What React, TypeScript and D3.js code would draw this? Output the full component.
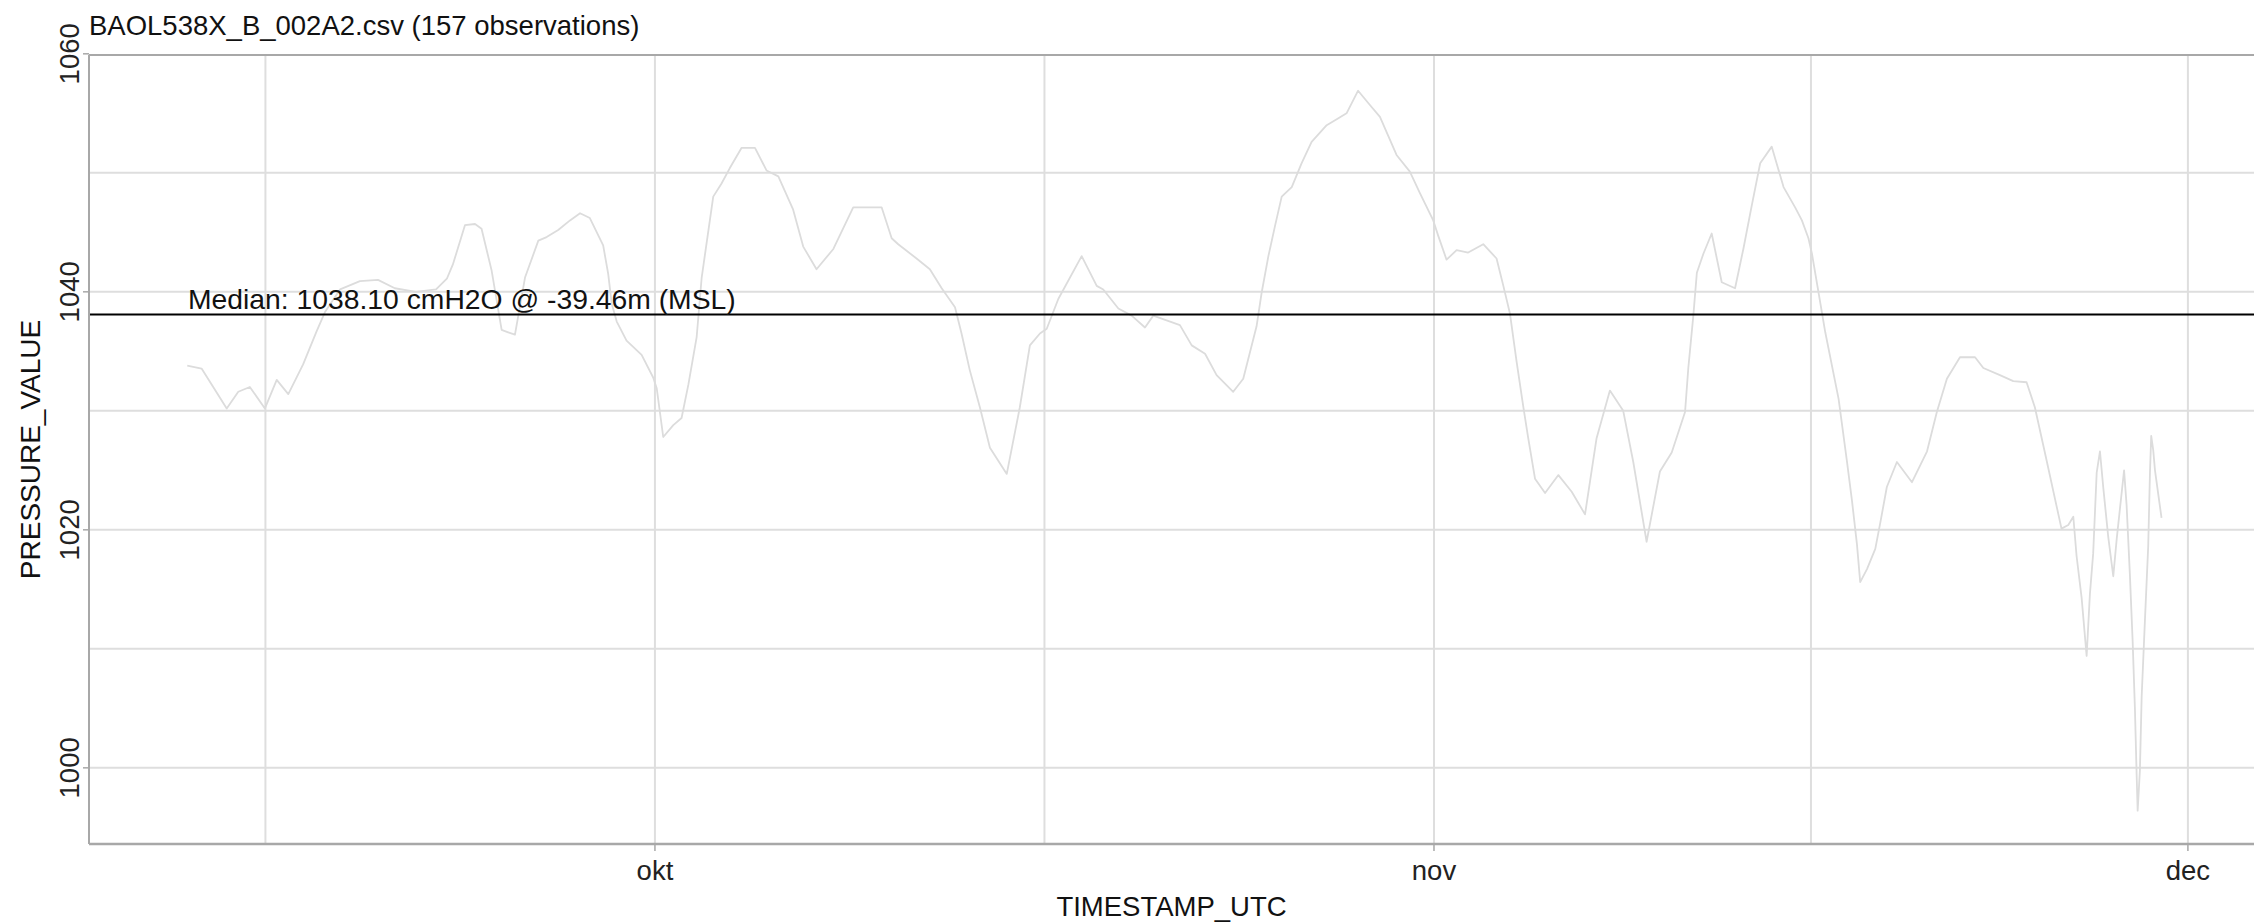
import React from 'react';
import * as d3 from 'd3';

// ---- text ----
const TITLE = 'BAOL538X_B_002A2.csv (157 observations)';
const MEDIAN_VALUE = 1038.1;
const MEDIAN_LABEL = 'Median: 1038.10 cmH2O @ -39.46m (MSL)';
const X_LABEL = 'TIMESTAMP_UTC';
const Y_LABEL = 'PRESSURE_VALUE';

// ---- axes ----
const MONTH_TICKS = ['2015-10-01T00:00:00Z', '2015-11-01T00:00:00Z', '2015-12-01T00:00:00Z'];
const MONTH_LABELS = ['okt', 'nov', 'dec'];
const Y_TICKS = [1000, 1020, 1040, 1060];
const Y_GRID = [1000, 1010, 1020, 1030, 1040, 1050];
const SERIES_START = '2015-09-01T00:00:00Z';
const X_LIMITS_DAYS = [7.48, 93.63];
const Y_LIMITS = [993.6, 1059.9];

// ---- data: days since SERIES_START, pressure (cmH2O) ----
const OBS_DAYS = [
  11.39, 11.96, 12.96, 13.42, 13.88, 14.48, 14.95, 15.41, 16.0, 16.54,
  16.87, 17.47, 18.26, 18.98, 19.65, 20.49, 21.29, 21.72, 21.96, 22.44,
  22.84, 23.1, 23.5, 23.9, 24.16, 24.43, 24.83, 25.36, 25.69, 26.15,
  26.62, 27.02, 27.41, 27.94, 28.14, 28.28, 28.48, 28.87, 29.47, 29.93,
  30.07, 30.33, 30.73, 31.06, 31.33, 31.66, 31.86, 32.32, 32.65, 32.98,
  33.45, 33.98, 34.44, 34.91, 35.5, 35.9, 36.43, 37.1, 37.89, 39.02,
  39.42, 39.68, 40.41, 40.94, 41.41, 41.94, 42.2, 42.53, 42.93, 43.33,
  44.0, 44.52, 44.92, 45.32, 45.59, 46.05, 46.98, 47.58, 47.84, 48.44,
  48.97, 49.5, 49.83, 50.36, 50.89, 51.36, 51.89, 52.35, 53.01, 53.41,
  53.94, 54.14, 54.41, 54.67, 54.94, 55.34, 55.73, 56.13, 56.73, 57.13,
  57.52, 57.98, 58.45, 58.85, 59.18, 59.51, 60.04, 60.44, 60.97, 61.17,
  61.5, 61.9, 62.36, 62.96, 63.49, 63.76, 64.02, 64.29, 64.55, 64.75,
  65.02, 65.42, 65.95, 66.48, 67.01, 67.47, 68.0, 68.53, 68.93, 69.46,
  69.99, 70.46, 70.99, 71.12, 71.32, 71.46, 71.72, 72.05, 72.45, 72.98,
  73.31, 73.65, 73.98, 74.44, 74.91, 75.37, 75.64, 75.9, 76.04, 76.37,
  76.57, 77.1, 77.43, 77.63, 77.83, 77.96, 78.23, 78.56, 78.76, 79.02,
  79.42, 80.02, 80.62, 81.01, 81.41, 81.93, 82.53, 82.86, 83.52, 84.05,
  84.58, 84.91, 85.38, 85.97, 86.24, 86.44, 86.57, 86.77, 86.97, 87.1,
  87.23, 87.37, 87.5, 87.63, 87.83, 88.03, 88.17, 88.46, 88.56, 88.69,
  88.8, 88.89, 88.96, 89.0, 89.09, 89.16, 89.29, 89.42, 89.49, 89.54,
  89.62, 89.69, 89.95,
];
const PRESSURE = [
  1033.8, 1033.55, 1030.2, 1031.6, 1032.0, 1030.2, 1032.6, 1031.4, 1033.9, 1036.7,
  1038.3, 1040.2, 1040.9, 1041.0, 1040.3, 1040.0, 1040.2, 1041.1, 1042.3, 1045.6,
  1045.7, 1045.3, 1041.8, 1036.8, 1036.6, 1036.4, 1041.2, 1044.3, 1044.6, 1045.2,
  1046.0, 1046.6, 1046.2, 1043.9, 1041.5, 1039.0, 1037.5, 1035.9, 1034.7, 1032.8,
  1031.9, 1027.8, 1028.8, 1029.4, 1032.2, 1036.2, 1041.2, 1048.0, 1049.1, 1050.4,
  1052.1, 1052.1, 1050.2, 1049.7, 1046.9, 1043.8, 1041.9, 1043.6, 1047.1, 1047.1,
  1044.5, 1044.0, 1042.8, 1041.9, 1040.3, 1038.7, 1036.5, 1033.4, 1030.3, 1026.9,
  1024.7, 1030.3, 1035.5, 1036.5, 1036.9, 1039.4, 1043.0, 1040.5, 1040.2, 1038.6,
  1038.0, 1037.0, 1038.0, 1037.6, 1037.2, 1035.5, 1034.8, 1033.0, 1031.6, 1032.7,
  1037.1, 1039.9, 1043.0, 1045.5, 1048.0, 1048.8, 1050.8, 1052.6, 1054.0, 1054.5,
  1055.0, 1056.9, 1055.7, 1054.7, 1053.1, 1051.5, 1050.1, 1048.3, 1046.0, 1044.7,
  1042.7, 1043.5, 1043.3, 1044.0, 1042.8, 1040.5, 1038.2, 1034.1, 1030.4, 1027.7,
  1024.3, 1023.1, 1024.6, 1023.2, 1021.3, 1027.7, 1031.7, 1030.0, 1025.7, 1019.0,
  1024.9, 1026.5, 1029.9, 1033.6, 1038.0, 1041.6, 1043.2, 1044.9, 1040.8, 1040.3,
  1043.6, 1047.3, 1050.8, 1052.2, 1048.8, 1047.1, 1046.0, 1044.5, 1043.2, 1039.1,
  1036.6, 1031.0, 1025.8, 1022.5, 1018.8, 1015.6, 1016.7, 1018.4, 1020.6, 1023.6,
  1025.7, 1024.0, 1026.6, 1029.9, 1032.7, 1034.5, 1034.5, 1033.6, 1033.0, 1032.5,
  1032.4, 1030.3, 1025.8, 1020.1, 1020.4, 1021.1, 1017.8, 1014.3, 1009.4, 1014.6,
  1018.0, 1024.8, 1026.6, 1023.6, 1019.4, 1016.1, 1019.3, 1025.0, 1022.1, 1016.3,
  1010.7, 1005.1, 999.4, 996.4, 999.8, 1006.0, 1012.4, 1018.6, 1024.8, 1027.9,
  1026.7, 1025.0, 1021.0,
];

const W = 2254;
const H = 923;
const PLOT = { left: 89, top: 55, right: 2254, bottom: 844 };
const FONT = '"Liberation Sans", Arial, sans-serif';
const DAY = 86400000;

export default function App() {
  const t0 = new Date(SERIES_START).getTime();
  const toDate = (d: number) => new Date(t0 + d * DAY);

  const x = d3
    .scaleUtc()
    .domain([toDate(X_LIMITS_DAYS[0]), toDate(X_LIMITS_DAYS[1])])
    .range([PLOT.left, PLOT.right]);
  const y = d3.scaleLinear().domain(Y_LIMITS).range([PLOT.bottom, PLOT.top]);

  const points = OBS_DAYS.map((d, i) => ({ t: toDate(d), v: PRESSURE[i] }));
  const line = d3
    .line<{ t: Date; v: number }>()
    .x((p) => x(p.t))
    .y((p) => y(p.v));

  const monthX = MONTH_TICKS.map((s) => x(new Date(s)));
  const gridX: number[] = [];
  gridX.push(monthX[0] - (monthX[1] - monthX[0]) / 2);
  monthX.forEach((mx, i) => {
    gridX.push(mx);
    if (i < monthX.length - 1) gridX.push((mx + monthX[i + 1]) / 2);
  });

  const gridColor = '#dedede';
  const axisColor = '#a8a8a8';
  const fs = 27.5;

  return (
    <svg
      width={W}
      height={H}
      style={{ position: 'absolute', left: 0, top: 0, background: '#fff' }}
      fontFamily={FONT}
    >
      <rect x={0} y={0} width={W} height={H} fill="#fff" />
      {/* grid */}
      {Y_GRID.map((v) => (
        <line key={'hy' + v} x1={PLOT.left} x2={PLOT.right} y1={y(v)} y2={y(v)} stroke={gridColor} strokeWidth={2} />
      ))}
      {gridX.map((gx, i) => (
        <line key={'vx' + i} x1={gx} x2={gx} y1={PLOT.top} y2={PLOT.bottom} stroke={gridColor} strokeWidth={2} />
      ))}

      {/* series */}
      <path d={line(points) || ''} fill="none" stroke="#dcdcdc" strokeWidth={1.8} strokeLinejoin="round" />

      {/* median */}
      <line x1={PLOT.left} x2={PLOT.right} y1={y(MEDIAN_VALUE)} y2={y(MEDIAN_VALUE)} stroke="#000" strokeWidth={2} />
      <text x={188} y={y(MEDIAN_VALUE) - 5} fontSize={fs + 0.8} fill="#111">
        {MEDIAN_LABEL}
      </text>

      {/* frame */}
      <line x1={PLOT.left} x2={PLOT.right} y1={PLOT.top} y2={PLOT.top} stroke={axisColor} strokeWidth={2} />
      <line x1={PLOT.left} x2={PLOT.right} y1={PLOT.bottom} y2={PLOT.bottom} stroke={axisColor} strokeWidth={2.5} />
      <line x1={PLOT.left} x2={PLOT.left} y1={PLOT.top} y2={PLOT.bottom} stroke={axisColor} strokeWidth={2} />

      {/* y axis */}
      {Y_TICKS.map((v) => (
        <g key={'yt' + v}>
          <line x1={PLOT.left - 6} x2={PLOT.left} y1={y(v)} y2={y(v)} stroke={axisColor} strokeWidth={1.5} />
          <text
            transform={`translate(${PLOT.left - 10},${y(v)}) rotate(-90)`}
            textAnchor="middle"
            fontSize={fs}
            fill="#222"
          >
            {v}
          </text>
        </g>
      ))}

      {/* x axis */}
      {monthX.map((mx, i) => (
        <g key={'xt' + i}>
          <line x1={mx} x2={mx} y1={PLOT.bottom} y2={PLOT.bottom + 7} stroke={axisColor} strokeWidth={1.5} />
          <text x={mx} y={880} textAnchor="middle" fontSize={fs} fill="#222">
            {MONTH_LABELS[i]}
          </text>
        </g>
      ))}

      {/* titles */}
      <text x={PLOT.left} y={35} fontSize={fs} fill="#111">
        {TITLE}
      </text>
      <text x={(PLOT.left + PLOT.right) / 2} y={916} textAnchor="middle" fontSize={fs} fill="#111">
        {X_LABEL}
      </text>
      <text
        transform={`translate(40,${(PLOT.top + PLOT.bottom) / 2}) rotate(-90)`}
        textAnchor="middle"
        fontSize={fs + 0.5}
        fill="#111"
      >
        {Y_LABEL}
      </text>
    </svg>
  );
}
